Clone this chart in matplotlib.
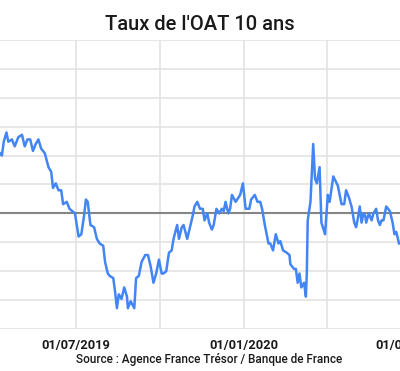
import matplotlib
matplotlib.use("Agg")
import matplotlib.pyplot as plt
import matplotlib.dates as mdates
import numpy as np
import pandas as pd

plt.rcParams["font.family"] = ["Roboto", "DejaVu Sans"]

TITLE = "Taux de l'OAT 10 ans"
SOURCE = "Source : Agence France Trésor / Banque de France"

# taux de l'OAT 10 ans (%)
dates = [
    "2019-04-09", "2019-04-11", "2019-04-13", "2019-04-16", "2019-04-18",
    "2019-04-22", "2019-04-25", "2019-04-29", "2019-05-03", "2019-05-06",
    "2019-05-09", "2019-05-12", "2019-05-15", "2019-05-18", "2019-05-21",
    "2019-05-24", "2019-05-28", "2019-06-01", "2019-06-04", "2019-06-06",
    "2019-06-09", "2019-06-12", "2019-06-15", "2019-06-17", "2019-06-21",
    "2019-06-24", "2019-06-27", "2019-06-30", "2019-07-02", "2019-07-04",
    "2019-07-07", "2019-07-10", "2019-07-12", "2019-07-14", "2019-07-17",
    "2019-07-21", "2019-07-24", "2019-07-27", "2019-07-31", "2019-08-02",
    "2019-08-05", "2019-08-07", "2019-08-11", "2019-08-13", "2019-08-15",
    "2019-08-17", "2019-08-20", "2019-08-23", "2019-08-26", "2019-08-27",
    "2019-08-30", "2019-09-03", "2019-09-05", "2019-09-08", "2019-09-11",
    "2019-09-15", "2019-09-18", "2019-09-21", "2019-09-24", "2019-09-27",
    "2019-09-30", "2019-10-03", "2019-10-05", "2019-10-08", "2019-10-11",
    "2019-10-14", "2019-10-16", "2019-10-20", "2019-10-22", "2019-10-25",
    "2019-10-27", "2019-10-31", "2019-11-03", "2019-11-06", "2019-11-08",
    "2019-11-11", "2019-11-14", "2019-11-17", "2019-11-19", "2019-11-22",
    "2019-11-24", "2019-11-27", "2019-11-29", "2019-12-02", "2019-12-05",
    "2019-12-08", "2019-12-10", "2019-12-12", "2019-12-15", "2019-12-17",
    "2019-12-19", "2019-12-23", "2019-12-28", "2019-12-31", "2020-01-03",
    "2020-01-07", "2020-01-09", "2020-01-13", "2020-01-16", "2020-01-19",
    "2020-01-21", "2020-01-24", "2020-01-28", "2020-01-30", "2020-02-02",
    "2020-02-05", "2020-02-08", "2020-02-10", "2020-02-13", "2020-02-17",
    "2020-02-20", "2020-02-21", "2020-02-25", "2020-02-27", "2020-02-29",
    "2020-03-02", "2020-03-04", "2020-03-07", "2020-03-09", "2020-03-10",
    "2020-03-11", "2020-03-14", "2020-03-17", "2020-03-19", "2020-03-21",
    "2020-03-24", "2020-03-26", "2020-03-30", "2020-04-02", "2020-04-04",
    "2020-04-08", "2020-04-13", "2020-04-17", "2020-04-20", "2020-04-22",
    "2020-04-25", "2020-04-28", "2020-05-01", "2020-05-03", "2020-05-05",
    "2020-05-07", "2020-05-09", "2020-05-11", "2020-05-13", "2020-05-14",
    "2020-05-17", "2020-05-20", "2020-05-22", "2020-05-25", "2020-05-27",
    "2020-05-29", "2020-05-31", "2020-06-02", "2020-06-05", "2020-06-07",
    "2020-06-09", "2020-06-12", "2020-06-14", "2020-06-16", "2020-06-19",
]
taux = [
    0.26, 0.25, 0.31, 0.35, 0.31,
    0.32, 0.29, 0.33, 0.34, 0.29,
    0.32, 0.32, 0.27, 0.30, 0.32,
    0.28, 0.26, 0.20, 0.18, 0.11,
    0.13, 0.10, 0.10, 0.04, 0.05,
    0.02, 0.01, 0.00, -0.05, -0.10,
    -0.09, -0.01, 0.06, 0.05, -0.05,
    -0.06, -0.11, -0.13, -0.14, -0.21,
    -0.26, -0.27, -0.28, -0.34, -0.41,
    -0.35, -0.37, -0.32, -0.36, -0.41,
    -0.38, -0.41, -0.28, -0.27, -0.21,
    -0.18, -0.18, -0.23, -0.30, -0.26,
    -0.20, -0.26, -0.26, -0.25, -0.17,
    -0.16, -0.11, -0.05, -0.11, -0.06,
    -0.05, -0.11, -0.06, -0.01, 0.03,
    0.05, 0.02, 0.02, -0.03, 0.00,
    -0.04, -0.07, -0.05, 0.02, 0.00,
    0.02, 0.01, 0.05, 0.00, 0.02,
    0.08, 0.05, 0.08, 0.13, 0.02,
    0.02, 0.06, 0.08, 0.05, 0.05,
    0.02, -0.05, -0.13, -0.13, -0.16,
    -0.09, -0.13, -0.12, -0.16, -0.17,
    -0.18, -0.22, -0.24, -0.24, -0.30,
    -0.26, -0.32, -0.30, -0.36, -0.26,
    -0.03, 0.05, 0.30, 0.15, 0.13,
    0.20, -0.04, -0.09, 0.08, 0.05,
    0.16, 0.12, 0.04, 0.04, 0.10,
    0.07, 0.03, -0.04, -0.06, -0.02,
    0.03, -0.04, 0.00, -0.01, -0.04,
    0.00, -0.03, 0.00, 0.02, -0.03,
    -0.05, -0.03, -0.03, 0.03, 0.02,
    0.01, -0.04, -0.09, -0.08, -0.13,
]

y_ticks = np.arange(-0.5, 0.76, 0.125)
x_grid = ["2019-04-01", "2019-07-01", "2019-10-01", "2020-01-01", "2020-04-01", "2020-07-01"]
x_labels = ["2019-07-01", "2020-01-01", "2020-07-01"]

LINE_COLOR = "#4285f4"
GRID_COLOR = "#e3e3e3"
ZERO_COLOR = "#858585"

fig = plt.figure(figsize=(4, 3.71), dpi=100)
# l'axe déborde volontairement à gauche et à droite (graphique recadré)
ax = fig.add_axes([-0.05, 42 / 371, 1.1, 289 / 371])

x = pd.to_datetime(dates)
ax.plot(x, taux, color=LINE_COLOR, lw=1.8, zorder=3, solid_joinstyle="round")

for t in y_ticks:
    ax.axhline(t, color=GRID_COLOR, lw=1.2, zorder=1)
ax.axhline(0, color=ZERO_COLOR, lw=1.5, zorder=2)
for d in pd.to_datetime(x_grid):
    ax.axvline(d, color=GRID_COLOR, lw=1.2, zorder=1)

ax.set_xlim(pd.Timestamp("2019-03-18"), pd.Timestamp("2020-07-12"))
ax.set_ylim(-0.5, 0.75)
ax.set_yticks([])
ax.set_xticks(pd.to_datetime(x_labels))
ax.xaxis.set_major_formatter(mdates.DateFormatter("%d/%m/%Y"))
ax.tick_params(axis="x", length=0, pad=7, labelsize=9.3, colors="#1a1a1a")
for lab in ax.get_xticklabels():
    lab.set_fontweight("bold")
for s in ax.spines.values():
    s.set_visible(False)

fig.text(0.5, 1 - 24 / 371, TITLE, ha="center", va="center", fontsize=14.5,
         fontweight="medium", color="#1a1a1a")
fig.text(209 / 400, 1 - 360 / 371, SOURCE, ha="center", va="center",
         fontsize=8.5, fontweight="medium", color="#1a1a1a")

fig.savefig("out.png", dpi=100)
